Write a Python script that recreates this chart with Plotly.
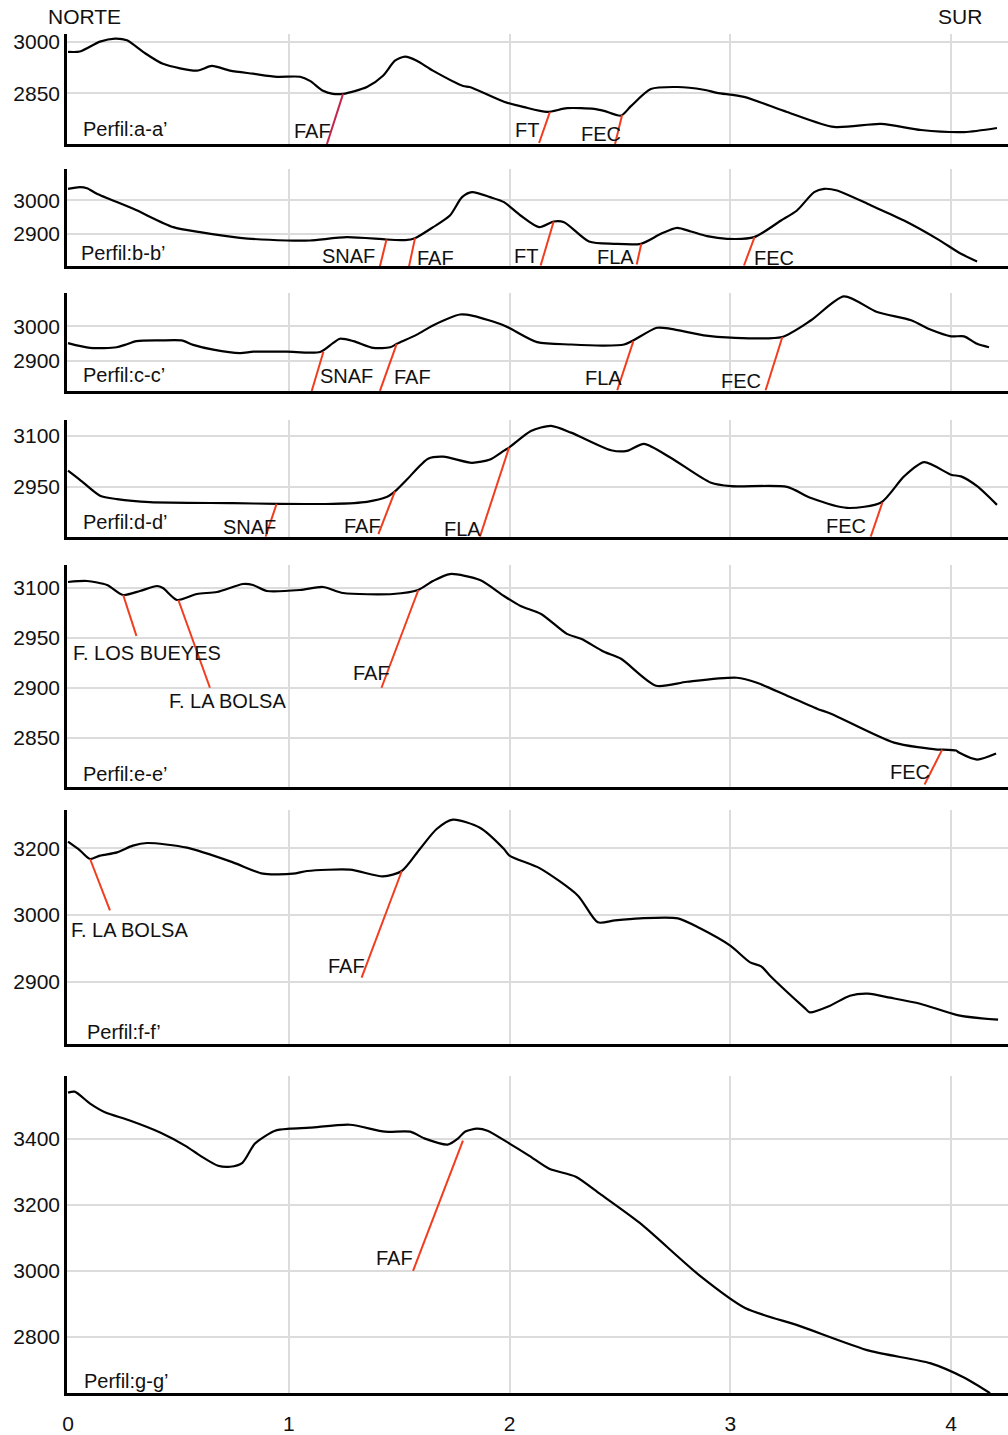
import plotly.graph_objects as go

# ---------------------------------------------------------------
# Topographic cross-sections (distance in km, elevation in m)
# ---------------------------------------------------------------
a_dist = [0, 0.054, 0.145, 0.213, 0.267, 0.34, 0.43, 0.584, 0.652, 0.734, 0.838, 0.947,
          1.051, 1.096, 1.155, 1.2, 1.246, 1.354, 1.427, 1.481, 1.527, 1.58, 1.653, 1.79,
          1.82, 1.975, 2.066, 2.17, 2.26, 2.383, 2.428, 2.505, 2.55, 2.64, 2.76, 2.88,
          2.94, 3.062, 3.257, 3.47, 3.683, 3.864, 4.059, 4.208]
a_elev = [2971, 2972, 3001, 3010, 3005, 2971, 2936, 2916, 2930, 2916, 2907, 2898,
          2898, 2886, 2857, 2848, 2848, 2868, 2901, 2945, 2957, 2945, 2916, 2871,
          2868, 2825, 2809, 2795, 2806, 2804, 2798, 2784, 2812, 2862, 2868, 2860,
          2851, 2839, 2795, 2751, 2760, 2742, 2736, 2748]

b_dist = [0, 0.054, 0.086, 0.131, 0.296, 0.477, 0.598, 0.779, 0.99, 1.096, 1.262, 1.443,
          1.527, 1.572, 1.654, 1.73, 1.785, 1.83, 1.912, 1.975, 2.05, 2.134, 2.2, 2.247,
          2.36, 2.473, 2.595, 2.686, 2.759, 2.822, 2.895, 2.985, 3.108, 3.23, 3.302,
          3.38, 3.425, 3.484, 3.638, 3.787, 3.937, 4.045, 4.118]
b_elev = [3035, 3040, 3037, 3020, 2975, 2920, 2905, 2888, 2880, 2880, 2890, 2883,
          2881, 2887, 2920, 2955, 3010, 3025, 3010, 2995, 2955, 2920, 2937, 2935,
          2877, 2870, 2870, 2900, 2918, 2907, 2893, 2885, 2890, 2940, 2970,
          3025, 3035, 3030, 2985, 2940, 2885, 2840, 2817]

c_dist = [0, 0.1, 0.22, 0.258, 0.31, 0.417, 0.514, 0.567, 0.658, 0.779, 0.84, 0.99,
          1.142, 1.2, 1.232, 1.293, 1.383, 1.459, 1.49, 1.58, 1.653, 1.776, 1.835,
          1.975, 2.125, 2.279, 2.428, 2.519, 2.555, 2.668, 2.73, 2.88, 3.003, 3.234,
          3.366, 3.515, 3.665, 3.819, 3.909, 4.0, 4.059, 4.118, 4.172]
c_elev = [2951, 2937, 2939, 2946, 2957, 2959, 2959, 2946, 2932, 2922, 2926, 2926,
          2925, 2951, 2964, 2957, 2937, 2939, 2949, 2976, 3003, 3035, 3031,
          3003, 2954, 2947, 2944, 2947, 2957, 2996, 2993, 2974, 2967, 2969,
          3018, 3088, 3042, 3018, 2990, 2971, 2971, 2949, 2939]

d_dist = [0, 0.054, 0.145, 0.222, 0.371, 0.747, 0.947, 1.2, 1.354, 1.443, 1.481, 1.534,
          1.631, 1.7, 1.83, 1.912, 1.975, 1.998, 2.097, 2.188, 2.279, 2.46, 2.532,
          2.609, 2.73, 2.913, 3.003, 3.257, 3.366, 3.529, 3.683, 3.787, 3.878, 4.0,
          4.045, 4.118, 4.208]
d_elev = [2998, 2971, 2924, 2914, 2905, 2902, 2900, 2900, 2906, 2920, 2937, 2971,
          3033, 3039, 3021, 3031, 3057, 3066, 3115, 3130, 3110, 3058, 3056,
          3077, 3036, 2962, 2952, 2950, 2917, 2888, 2904, 2981, 3023, 2986,
          2981, 2952, 2897]

e_dist = [0, 0.086, 0.177, 0.249, 0.326, 0.403, 0.43, 0.494, 0.584, 0.675, 0.793, 0.838,
          0.901, 1.051, 1.155, 1.246, 1.472, 1.586, 1.653, 1.73, 1.866, 1.975, 2.05,
          2.143, 2.26, 2.324, 2.428, 2.505, 2.664, 2.804, 3.03, 3.121, 3.257, 3.393,
          3.456, 3.742, 3.937, 3.959, 4.023, 4.036, 4.118, 4.204]
e_elev = [3006, 3007, 3003, 2993, 2997, 3002, 3000, 2988, 2994, 2996, 3004, 3003,
          2997, 2998, 3001, 2995, 2994, 2998, 3007, 3014, 3008, 2992, 2982,
          2974, 2954, 2949, 2936, 2929, 2902, 2906, 2910, 2905, 2892, 2879,
          2874, 2845, 2838, 2838, 2837, 2835, 2828, 2834]

f_dist = [0, 0.054, 0.1, 0.145, 0.222, 0.294, 0.358, 0.539, 0.747, 0.883, 1.019, 1.083,
          1.277, 1.427, 1.512, 1.594, 1.67, 1.744, 1.866, 1.975, 2.0, 2.138, 2.31,
          2.4, 2.478, 2.591, 2.763, 2.863, 3.0, 3.09, 3.14, 3.18, 3.339, 3.36, 3.452,
          3.542, 3.624, 3.724, 3.86, 4.04, 4.213]
f_elev = [3110, 3097, 3084, 3089, 3094, 3104, 3108, 3101, 3079, 3062, 3062, 3066,
          3068, 3058, 3066, 3099, 3129, 3143, 3131, 3099, 3089, 3070, 3029,
          2989, 2992, 2995, 2995, 2980, 2954, 2929, 2923, 2909, 2860, 2854, 2864,
          2879, 2882, 2876, 2867, 2849, 2843]

g_dist = [0, 0.03, 0.1, 0.17, 0.28, 0.42, 0.53, 0.6, 0.68, 0.734, 0.79, 0.847, 0.938,
          1.006, 1.096, 1.277, 1.436, 1.55, 1.617, 1.72, 1.766, 1.798, 1.853, 1.9,
          2.0, 2.09, 2.18, 2.3, 2.41, 2.59, 2.863, 3.067, 3.316, 3.633, 3.905, 4.063,
          4.177]
g_elev = [3539, 3542, 3506, 3479, 3455, 3418, 3379, 3348, 3318, 3315, 3327, 3385, 3424,
          3430, 3433, 3442, 3421, 3421, 3400, 3382, 3400, 3421, 3430, 3424,
          3385, 3348, 3309, 3285, 3233, 3145, 2985, 2888, 2833, 2758, 2721, 2676,
          2630]

# Faults: name, top (distance, elevation), base (distance, elevation)
a_fault_names = ["FAF", "FT", "FEC"]
a_fault_top = [(1.246, 2848), (2.183, 2795), (2.51, 2786)]
a_fault_base = [(1.173, 2701), (2.134, 2704), (2.478, 2701)]

b_fault_names = ["SNAF", "FAF", "FT", "FLA", "FEC"]
b_fault_top = [(1.443, 2883), (1.572, 2887), (2.2, 2937), (2.597, 2870), (3.11, 2890)]
b_fault_base = [(1.413, 2803), (1.545, 2803), (2.141, 2805), (2.576, 2808), (3.062, 2805)]

c_fault_names = ["SNAF", "FAF", "FLA", "FEC"]
c_fault_top = [(1.157, 2926), (1.489, 2949), (2.561, 2957), (3.236, 2969)]
c_fault_base = [(1.104, 2811), (1.413, 2811), (2.488, 2813), (3.16, 2813)]

d_fault_names = ["SNAF", "FAF", "FLA", "FEC"]
d_fault_top = [(0.945, 2900), (1.481, 2937), (1.998, 3066), (3.689, 2904)]
d_fault_base = [(0.895, 2803), (1.406, 2811), (1.866, 2803), (3.636, 2803)]

e_fault_names = ["F. LOS BUEYES", "F. LA BOLSA", "FAF", "FEC"]
e_fault_top = [(0.25, 2993), (0.5, 2988), (1.587, 2998), (3.96, 2838)]
e_fault_base = [(0.31, 2952), (0.643, 2900), (1.42, 2900), (3.88, 2803)]

f_fault_names = ["F. LA BOLSA", "FAF"]
f_fault_top = [(0.1, 3084), (1.512, 3066)]
f_fault_base = [(0.19, 3007), (1.33, 2906)]

g_fault_names = ["FAF"]
g_fault_top = [(1.789, 3394)]
g_fault_base = [(1.563, 3000)]

# Elevation ticks of each section
a_ticks, a_ticktext = [3000, 2850], ["3000", "2850"]
b_ticks, b_ticktext = [3000, 2900], ["3000", "2900"]
c_ticks, c_ticktext = [3000, 2900], ["3000", "2900"]
d_ticks, d_ticktext = [3100, 2950], ["3100", "2950"]
e_ticks, e_ticktext = [3000, 2950, 2900, 2850], ["3100", "2950", "2900", "2850"]
f_ticks, f_ticktext = [3100, 3000, 2900], ["3200", "3000", "2900"]
g_ticks, g_ticktext = [3400, 3200, 3000, 2800], ["3400", "3200", "3000", "2800"]

dist_ticks = [0, 1, 2, 3, 4]
dist_ticktext = ["0", "1", "2", "3", "4"]

section_titles = ["Perfil:a-a’", "Perfil:b-b’", "Perfil:c-c’", "Perfil:d-d’",
                  "Perfil:e-e’", "Perfil:f-f’", "Perfil:g-g’"]

# ---------------------------------------------------------------
# Layout settings
# ---------------------------------------------------------------
W, H = 1008, 1435
FONT = "Liberation Sans, Arial, Helvetica, sans-serif"
FAULT_RED = "#F23C1E"
FAULT_CRIMSON = "#C3254C"
GRID = "#DCDCDC"
X_RANGE = [-0.0045, 4.258]

# pixel band (top, bottom) and elevation range of each panel
bands = [(31, 142), (167, 265), (292, 391), (420, 537.5), (566, 790), (813, 1048), (1081, 1400)]
elev_ranges = [(2701, 3024), (2803, 3095), (2810, 3098), (2803, 3147),
               (2800, 3023), (2807, 3157), (2630, 3588)]

# label placement: (distance, elevation) of the left edge / vertical centre
title_pos = [(0.063, 2745), (0.054, 2843), (0.063, 2858), (0.063, 2847),
             (0.063, 2814), (0.082, 2824), (0.068, 2667)]
fault_label_pos = [
    [(1.019, 2739), (2.02, 2742), (2.319, 2730)],
    [(1.146, 2834), (1.576, 2828), (2.016, 2834), (2.392, 2830), (3.103, 2828)],
    [(1.137, 2855), (1.472, 2852), (2.337, 2849), (2.954, 2840)],
    [(0.698, 2832), (1.246, 2835), (1.699, 2826), (3.429, 2835)],
    [(0.018, 2935), (0.453, 2887), (1.286, 2915), (3.719, 2816)],
    [(0.009, 2978), (1.173, 2923)],
    [(1.391, 3039)],
]

sections = [
    (a_dist, a_elev, a_fault_names, a_fault_top, a_fault_base, a_ticks, a_ticktext),
    (b_dist, b_elev, b_fault_names, b_fault_top, b_fault_base, b_ticks, b_ticktext),
    (c_dist, c_elev, c_fault_names, c_fault_top, c_fault_base, c_ticks, c_ticktext),
    (d_dist, d_elev, d_fault_names, d_fault_top, d_fault_base, d_ticks, d_ticktext),
    (e_dist, e_elev, e_fault_names, e_fault_top, e_fault_base, e_ticks, e_ticktext),
    (f_dist, f_elev, f_fault_names, f_fault_top, f_fault_base, f_ticks, f_ticktext),
    (g_dist, g_elev, g_fault_names, g_fault_top, g_fault_base, g_ticks, g_ticktext),
]

fig = go.Figure()
layout = {}
annotations = []

for i, (dist, elev, fnames, ftop, fbase, yt, ytt) in enumerate(sections):
    n = i + 1
    xref = "x" if n == 1 else f"x{n}"
    yref = "y" if n == 1 else f"y{n}"
    xkey = "xaxis" if n == 1 else f"xaxis{n}"
    ykey = "yaxis" if n == 1 else f"yaxis{n}"
    last = n == len(sections)

    fig.add_trace(go.Scatter(
        x=dist, y=elev, mode="lines", xaxis=xref, yaxis=yref,
        line=dict(color="black", width=2.2, shape="spline", smoothing=0.7),
        hoverinfo="skip", showlegend=False, cliponaxis=False))

    for j, name in enumerate(fnames):
        color = FAULT_CRIMSON if (n == 1 and j == 0) else FAULT_RED
        fig.add_trace(go.Scatter(
            x=[ftop[j][0], fbase[j][0]], y=[ftop[j][1], fbase[j][1]],
            mode="lines", xaxis=xref, yaxis=yref,
            line=dict(color=color, width=2),
            hoverinfo="skip", showlegend=False))
        lx, ly = fault_label_pos[i][j]
        annotations.append(dict(
            x=lx, y=ly, xref=xref, yref=yref, text=name, showarrow=False,
            xanchor="left", yanchor="middle", borderpad=0,
            font=dict(family=FONT, size=20, color="#111111")))

    tx, ty = title_pos[i]
    annotations.append(dict(
        x=tx, y=ty, xref=xref, yref=yref, text=section_titles[i], showarrow=False,
        xanchor="left", yanchor="middle", borderpad=0,
        font=dict(family=FONT, size=20, color="#111111")))

    top, bot = bands[i]
    layout[xkey] = dict(
        domain=[0, 1], anchor=yref, range=X_RANGE,
        tickmode="array", tickvals=dist_ticks, ticktext=dist_ticktext,
        showticklabels=last, ticks="", ticklabelstandoff=10,
        tickfont=dict(family=FONT, size=21, color="#111111"),
        showgrid=True, gridcolor=GRID, gridwidth=2,
        showline=True, linecolor="black", linewidth=2.5,
        zeroline=False, fixedrange=True)
    if n > 1:
        layout[xkey]["matches"] = "x"
    layout[ykey] = dict(
        domain=[1 - bot / H, 1 - top / H], anchor=xref, range=list(elev_ranges[i]),
        tickmode="array", tickvals=yt, ticktext=ytt, ticks="",
        ticklabelstandoff=0,
        tickfont=dict(family=FONT, size=21, color="#111111"),
        showgrid=True, gridcolor=GRID, gridwidth=2,
        showline=True, linecolor="black", linewidth=2.5,
        zeroline=False, fixedrange=True)

annotations.append(dict(
    x=(84 - 67) / (W - 67), y=1 - 14 / H, xref="paper", yref="paper", text="NORTE",
    showarrow=False, xanchor="center", yanchor="middle",
    font=dict(family=FONT, size=21, color="#111111")))
annotations.append(dict(
    x=(960 - 67) / (W - 67), y=1 - 14 / H, xref="paper", yref="paper", text="SUR",
    showarrow=False, xanchor="center", yanchor="middle",
    font=dict(family=FONT, size=21, color="#111111")))

fig.update_layout(
    width=W, height=H,
    margin=dict(l=67, r=0, t=0, b=0),
    paper_bgcolor="white", plot_bgcolor="white",
    showlegend=False, annotations=annotations,
    **layout)

fig.write_html("out.html")
